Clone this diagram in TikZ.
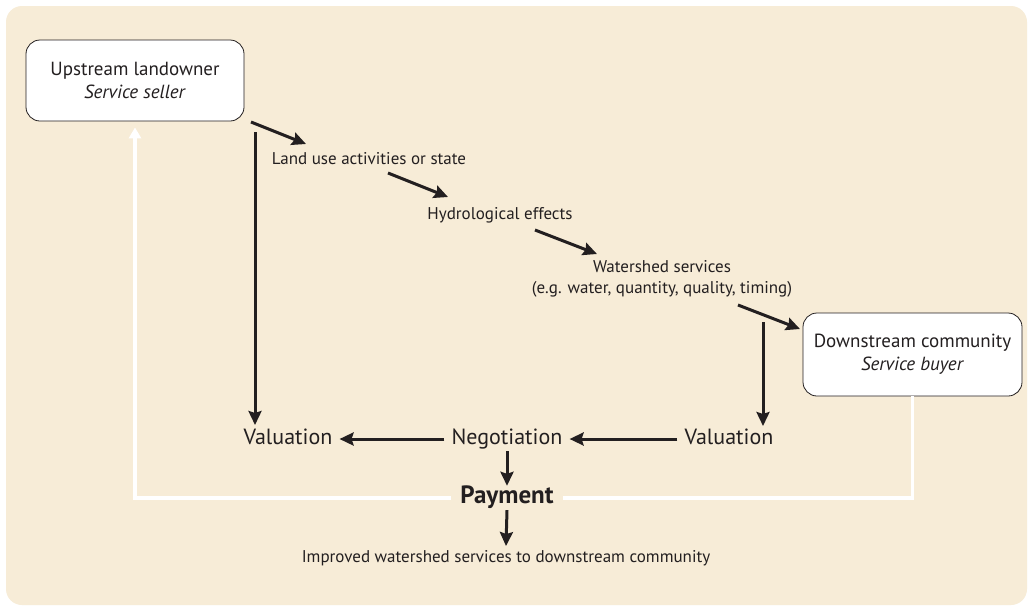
\documentclass[tikz,border=0pt]{standalone}
\usepackage{fontspec}
\setmainfont{PT Sans}
\usetikzlibrary{arrows.meta}
\definecolor{bgbeige}{HTML}{F7ECD7}
\definecolor{ink}{HTML}{231F20}
\begin{document}
\begin{tikzpicture}[x=1pt,y=-1pt,
  actor/.style={draw=ink,line width=0.8pt,rounded corners=14pt,fill=white,align=center,font=\fontsize{19}{23}\selectfont,text=ink},
  lbl/.style={align=center,font=\fontsize{17}{21}\selectfont,text=ink,inner sep=1pt},
  big/.style={font=\fontsize{22}{24}\selectfont,text=ink,inner sep=1pt,text height=15pt,text depth=5pt},
  flow/.style={draw=ink,line width=3pt,-{Stealth[length=14pt,width=13pt,inset=2pt]}},
  ret/.style={draw=white,line width=3.2pt},
]
\useasboundingbox (0,0) rectangle (1033,611);
\fill[white] (0,0) rectangle (1033,611);
\fill[bgbeige,rounded corners=16pt] (6,6) rectangle (1027,605);

\node[actor,minimum width=218pt,minimum height=81pt] (up) at (135,80.5) {Upstream landowner\\\textit{Service seller}};
\node[actor,minimum width=219pt,minimum height=83pt] (down) at (912.5,354.5) {Downstream community\\\textit{Service buyer}};

\node[lbl] (land) at (369,159) {Land use activities or state};
\node[lbl] (hydro) at (500,215) {Hydrological effects};
\node[lbl] (ws) at (662,279) {Watershed services\\(e.g. water, quantity, quality, timing)};

\node[big] (valL) at (288,439) {Valuation};
\node[big] (nego) at (507,439) {Negotiation};
\node[big] (valR) at (729,439) {Valuation};
\node[big,font=\fontsize{25}{28}\selectfont\bfseries] (pay) at (507,498) {Payment};
\node[lbl,font=\fontsize{17}{20}\selectfont] (impr) at (506,558) {Improved watershed services to downstream community};

\coordinate (l1) at (251,122);
\coordinate (l1e) at (306,144);
\coordinate (l2) at (388,173);
\coordinate (l2e) at (448,197);
\coordinate (l3) at (535,230);
\coordinate (l3e) at (597,254);
\coordinate (l4) at (738,305);
\coordinate (l4e) at (800,329);
\coordinate (vLs) at (255,132);
\coordinate (vLe) at (255,425);
\coordinate (vRs) at (763,322);
\coordinate (vRe) at (763,426);

\draw[flow] (l1) -- (l1e);
\draw[flow] (l2) -- (l2e);
\draw[flow] (l3) -- (l3e);
\draw[flow] (l4) -- (l4e);
\draw[flow] (vLs) -- (vLe);
\draw[flow] (vRs) -- (vRe);
\draw[flow] ([xshift=-6pt]nego.west) -- ([xshift=6pt]valL.east);
\draw[flow] ([xshift=-6pt]valR.west) -- ([xshift=6pt]nego.east);
\draw[flow] ([yshift=-1pt]nego.south) -- ([yshift=1pt]pay.north);
\draw[flow] ([yshift=-1pt]pay.south) -- ([yshift=3pt]impr.north);

\draw[ret] (down.south) |- ([xshift=8pt]pay.east);
\draw[ret,-{Triangle[length=11pt,width=12pt]}] ([xshift=-8pt]pay.west) -| ([yshift=-6pt]up.south);
\end{tikzpicture}
\end{document}
